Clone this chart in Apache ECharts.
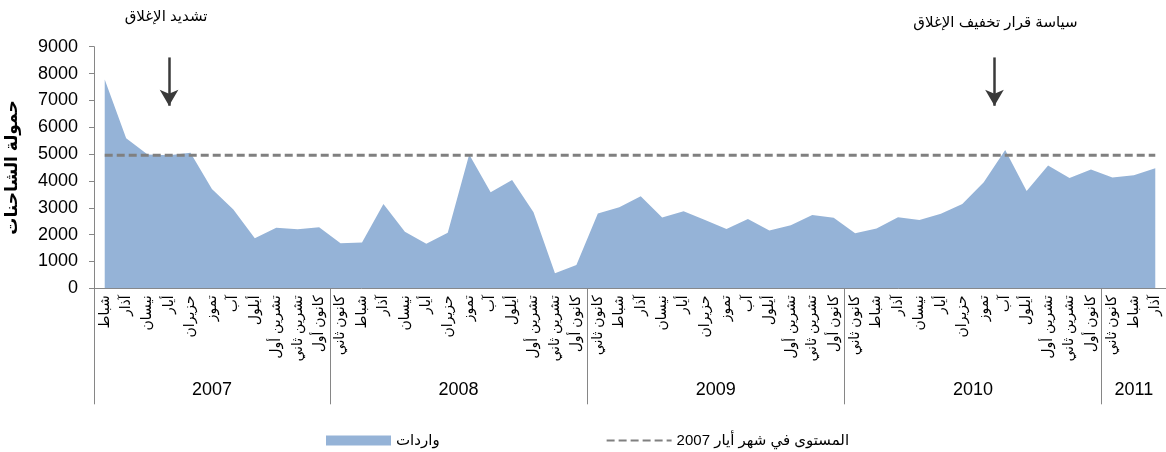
<!DOCTYPE html>
<html>
<head>
<meta charset="utf-8">
<script src="https://cdn.jsdelivr.net/npm/echarts@6/dist/echarts.min.js"></script>
<style>
html,body{margin:0;padding:0;background:#fff;}
#chart{width:1166px;height:452px;}
</style>
</head>
<body>
<div id="chart"></div>
<script>
// ---- data ----
const categories = [
  'شباط','آذار','نيسان','أيار','حزيران','تموز','آب','أيلول','تشرين أول','تشرين ثاني','كانون أول',
  'كانون ثاني','شباط','آذار','نيسان','أيار','حزيران','تموز','آب','أيلول','تشرين أول','تشرين ثاني','كانون أول',
  'كانون ثاني','شباط','آذار','نيسان','أيار','حزيران','تموز','آب','أيلول','تشرين أول','تشرين ثاني','كانون أول',
  'كانون ثاني','شباط','آذار','نيسان','أيار','حزيران','تموز','آب','أيلول','تشرين أول','تشرين ثاني','كانون أول',
  'كانون ثاني','شباط','آذار'
];
const imports = [
  7780, 5590, 4980, 4960, 5050, 3700, 2940, 1860, 2260, 2200, 2270,
  1680, 1710, 3140, 2110, 1660, 2070, 4980, 3580, 4030, 2830, 560, 870,
  2790, 3020, 3430, 2640, 2870, 2540, 2210, 2580, 2150, 2350, 2730, 2630,
  2050, 2230, 2650, 2540, 2780, 3140, 3950, 5150, 3620, 4570, 4110, 4430,
  4130, 4210, 4470
];
const mayLevel2007 = 4960;
const years = ['2007', '2008', '2009', '2010', '2011'];
const yearStart = [0, 11, 23, 35, 47];
const yearLength = [11, 12, 12, 12, 3];
const seriesNames = ['واردات', 'المستوى في شهر أيار 2007'];
const yAxisName = 'حمولة الشاحنات';
const annotationTexts = ['تشديد الإغلاق', 'سياسة قرار تخفيف الإغلاق'];
const annotationAt = [3.5, 42];      // position on the month scale (band units)
const arrowFrom = 8600, arrowTo = 6800;

// ---- derived ----
const yearCenters = yearStart.map((s, i) => s + yearLength[i] / 2);
const levelLine = categories.map(() => mayLevel2007);
const FONT = "'Liberation Sans', Arial, 'DejaVu Sans', sans-serif";

const chart = echarts.init(document.getElementById('chart'));
const option = {
  animation: false,
  backgroundColor: '#fff',
  textStyle: { fontFamily: FONT },
  grid: { left: 94, right: 0, top: 46.7, bottom: 163.7, containLabel: false, outerBoundsMode: 'none' },
  legend: {
    left: 321, top: 428,
    itemWidth: 65, itemHeight: 10, itemGap: 166,
    textStyle: { fontSize: 15, color: '#000', fontFamily: FONT },
    data: [
      { name: seriesNames[0], icon: 'rect' },
      { name: seriesNames[1], itemStyle: { opacity: 0 } }
    ]
  },
  xAxis: [
    {
      type: 'category',
      data: categories,
      boundaryGap: true,
      axisLine: { lineStyle: { color: '#868686', width: 1 } },
      axisTick: { show: false },
      axisLabel: {
        interval: 0, rotate: 90, margin: 7,
        fontSize: 14, color: '#000', fontFamily: FONT
      }
    },
    {
      type: 'value',
      position: 'bottom',
      min: 0, max: categories.length,
      axisLine: { show: false },
      splitLine: { show: false },
      axisTick: {
        show: true, customValues: yearStart, length: 116,
        lineStyle: { color: '#868686', width: 1 }
      },
      axisLabel: {
        show: true, customValues: yearCenters, margin: 93,
        fontSize: 18, color: '#000', fontFamily: FONT,
        formatter: function (v) {
          const i = yearCenters.indexOf(v);
          return i >= 0 ? years[i] : '';
        }
      }
    }
  ],
  yAxis: {
    type: 'value',
    min: 0, max: 9000, interval: 1000,
    name: yAxisName,
    nameLocation: 'middle',
    nameGap: 73,
    nameTextStyle: { fontSize: 17, fontWeight: 'bold', color: '#000', fontFamily: FONT },
    axisLine: { show: true, lineStyle: { color: '#868686', width: 1 } },
    axisTick: { show: true, length: 5, lineStyle: { color: '#868686' } },
    axisLabel: {
      fontSize: 18, color: '#000', margin: 16, fontFamily: FONT,
      formatter: function (v) { return String(v); }
    },
    splitLine: { show: false }
  },
  series: [
    {
      name: seriesNames[0],
      type: 'line',
      data: imports,
      symbol: 'none',
      lineStyle: { width: 0, color: '#95B3D7' },
      itemStyle: { color: '#95B3D7' },
      areaStyle: { color: '#95B3D7', opacity: 1 },
      z: 1
    },
    {
      name: seriesNames[1],
      type: 'line',
      data: levelLine,
      symbol: 'none',
      showSymbol: false,
      itemStyle: { color: '#808080' },
      lineStyle: { color: '#808080', width: 3, type: [8, 4] },
      z: 3
    },
    {
      name: 'arrows',
      type: 'line',
      xAxisIndex: 1,
      data: [],
      silent: true,
      markLine: {
        silent: true,
        animation: false,
        symbol: ['none', 'arrow'],
        symbolSize: [14, 16],
        label: { show: false },
        lineStyle: { color: '#3a3a3a', width: 2.5, type: 'solid' },
        data: annotationAt.map(x => [
          { coord: [x, arrowFrom] },
          { coord: [x, arrowTo] }
        ])
      }
    }
  ]
};
chart.setOption(option);

// annotation texts placed over arrows using the axis scale
const annotationTop = [16.5, 23];
const annotationDx = [-3, 1];
chart.setOption({
  graphic: annotationTexts.map((t, i) => ({
    type: 'text',
    x: chart.convertToPixel({ xAxisIndex: 1 }, annotationAt[i]) + annotationDx[i],
    y: annotationTop[i],
    style: {
      text: t, fontSize: 15, fill: '#000', fontFamily: FONT,
      align: 'center', verticalAlign: 'middle'
    }
  }))
});
</script>
</body>
</html>
